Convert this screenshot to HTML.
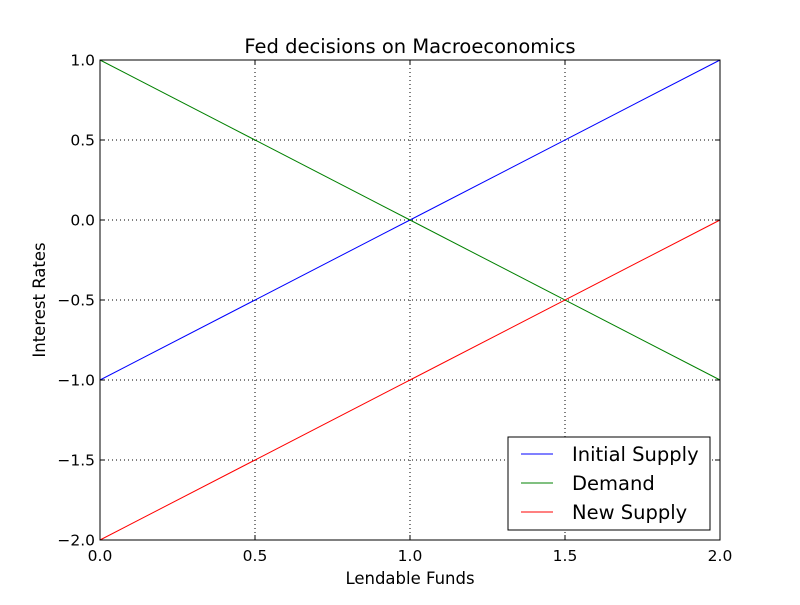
<!DOCTYPE html>
<html><head><meta charset="utf-8"><style>
body{margin:0;background:#fff;}
svg text{font-family:"DejaVu Sans","Liberation Sans",sans-serif;fill:#000;}
</style></head><body>
<svg id="chart" width="800" height="600">
<rect x="0" y="0" width="800" height="600" fill="#fff"/>
<text x="410" y="53" font-size="19.5" text-anchor="middle">Fed decisions on Macroeconomics</text>
<g id="grid"></g>
<g id="series"></g>
<rect x="100" y="60" width="620" height="480" fill="none" stroke="#000" stroke-width="1"/>
<g id="ticks"></g>
<text x="410" y="584" font-size="16.5" text-anchor="middle">Lendable Funds</text>
<text transform="translate(45,300) rotate(-90)" font-size="16.5" text-anchor="middle">Interest Rates</text>
<g id="legend"></g>
</svg>
<script>
const seriesNames=["Initial Supply","Demand","New Supply"];
const seriesColors=["#0000ff","#008000","#ff0000"];
const xValues=[0,1,2];
const initialSupply=[-1,0,1];
const demand=[1,0,-1];
const newSupply=[-2,-1,0];
const xTicks=[0,0.5,1,1.5,2];
const xTickLabels=["0.0","0.5","1.0","1.5","2.0"];
const yTicks=[-2,-1.5,-1,-0.5,0,0.5,1];
const yTickLabels=["\u22122.0","\u22121.5","\u22121.0","\u22120.5","0.0","0.5","1.0"];
const NS="http://www.w3.org/2000/svg";
const L=100,R=720,T=60,B=540;
const xs=v=>L+(v-0)/(2-0)*(R-L);
const ys=v=>B-(v+2)/(1+2)*(B-T);
function mk(tag,attrs,parent){const e=document.createElementNS(NS,tag);for(const k in attrs)e.setAttribute(k,attrs[k]);parent.appendChild(e);return e;}
const grid=document.getElementById('grid'),ticks=document.getElementById('ticks'),ser=document.getElementById('series'),leg=document.getElementById('legend');
xTicks.forEach((t,i)=>{const x=xs(t);
 const g=mk('line',{x1:x,x2:x,y1:T,y2:B,stroke:'#000','stroke-dasharray':'1,3','stroke-width':1},grid);
 
 mk('line',{x1:x,x2:x,y1:B,y2:B-5,stroke:'#000'},ticks);
 mk('line',{x1:x,x2:x,y1:T,y2:T+5,stroke:'#000'},ticks);
 const tx=mk('text',{x:x,y:B+21,'font-size':15.5,'text-anchor':'middle'},ticks);tx.textContent=xTickLabels[i];
 });
yTicks.forEach((t,i)=>{const y=ys(t);
 const g=mk('line',{x1:L,x2:R,y1:y,y2:y,stroke:'#000','stroke-dasharray':'1,3','stroke-width':1},grid);
 
 mk('line',{x1:L,x2:L+5,y1:y,y2:y,stroke:'#000'},ticks);
 mk('line',{x1:R,x2:R-5,y1:y,y2:y,stroke:'#000'},ticks);
 const tx=mk('text',{x:L-5,y:y+5.5,'font-size':15.5,'text-anchor':'end'},ticks);tx.textContent=yTickLabels[i];
 });
[initialSupply,demand,newSupply].forEach((arr,i)=>{
 const p=mk('polyline',{points:arr.map((v,j)=>xs(xValues[j])+','+ys(v)).join(' '),fill:'none',stroke:seriesColors[i],'stroke-width':1},ser);
 
 });
const box=mk('rect',{x:508,y:437,width:202,height:93,fill:'#fff',stroke:'#000'},leg);

seriesNames.forEach((n,i)=>{const y=454+i*29;
 mk('line',{x1:521,x2:553,y1:y,y2:y,stroke:seriesColors[i]},leg);
 const t=mk('text',{x:572,y:y+7,'font-size':19.5},leg);t.textContent=n;
 });
</script>
</body></html>
